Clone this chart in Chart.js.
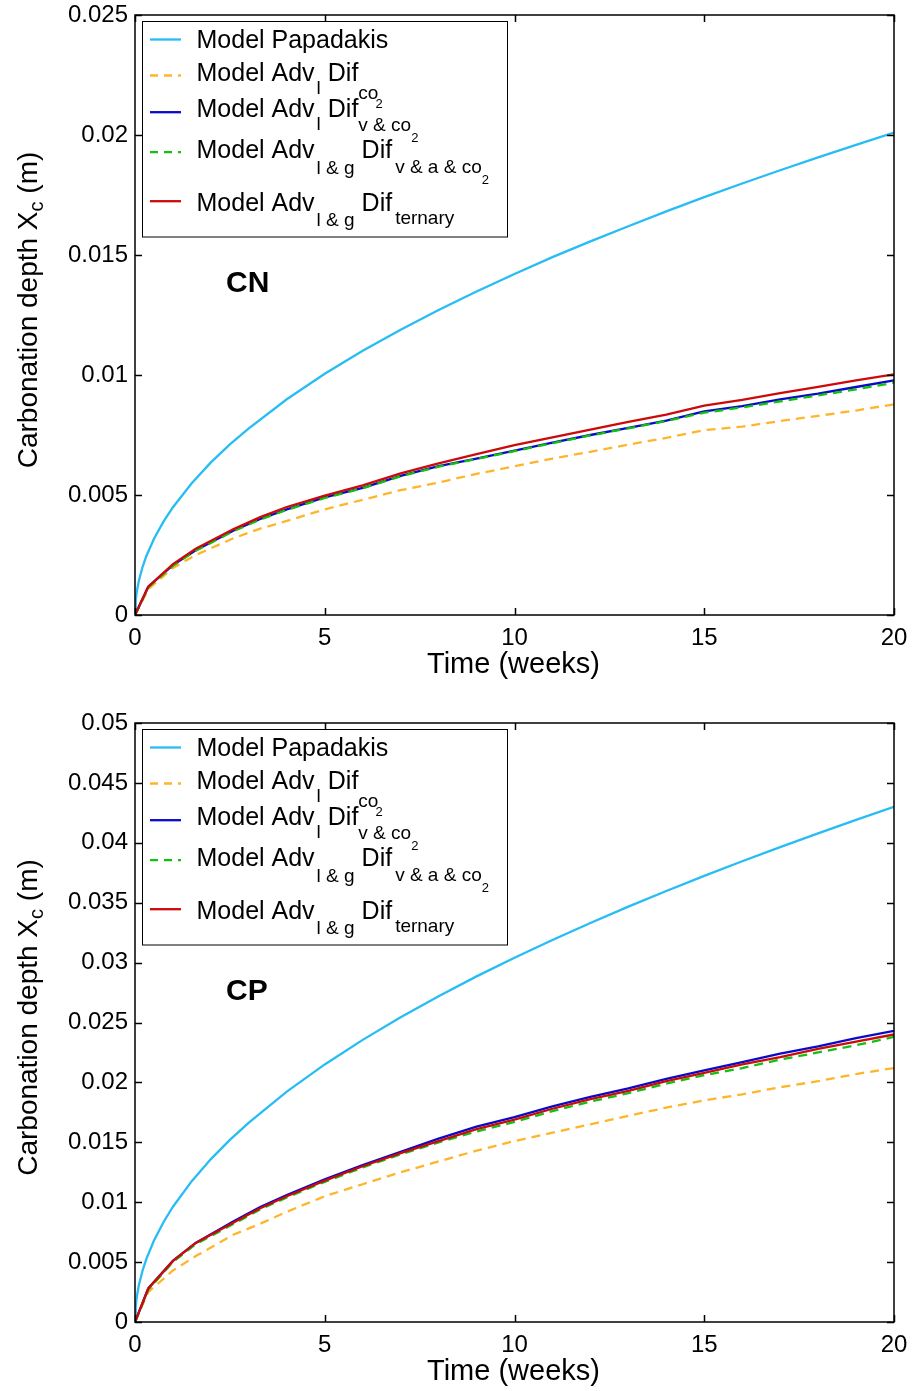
<!DOCTYPE html>
<html><head><meta charset="utf-8">
<script src="https://cdn.jsdelivr.net/npm/chart.js@4.4.0/dist/chart.umd.min.js"></script>
<style>html,body{margin:0;padding:0;background:#fff}canvas{display:block}</style>
</head><body>
<canvas id="cn" width="914" height="695"></canvas>
<canvas id="cp" width="914" height="696"></canvas>
<script>
// ---------- data ----------
const xTickValues = [0, 5, 10, 15, 20];
const cnYTickValues = [0, 0.005, 0.01, 0.015, 0.02, 0.025];
const cpYTickValues = [0, 0.005, 0.01, 0.015, 0.02, 0.025, 0.03, 0.035, 0.04, 0.045, 0.05];

const papTime = [0, 0.02, 0.05, 0.1, 0.2, 0.3, 0.5, 0.75, 1, 1.5, 2, 2.5, 3, 4, 5, 6, 7, 8, 9, 10, 11, 12, 13, 14, 15, 16, 17, 18, 19, 20];
const modelTime = [0, 0.35, 1, 1.6, 2.6, 3.3, 4, 5, 6, 7, 8, 9, 10, 11, 12, 13, 14, 15, 16, 17, 18, 19, 20];

// CN
const cnPapadakis = [0, 0.00064, 0.00100, 0.00142, 0.00201, 0.00246, 0.00318, 0.00389, 0.00449, 0.00550, 0.00636, 0.00711, 0.00778, 0.00899, 0.01005, 0.01101, 0.01189, 0.01271, 0.01348, 0.01421, 0.01491, 0.01557, 0.01620, 0.01682, 0.01741, 0.01798, 0.01853, 0.01907, 0.01959, 0.02010];
const cnAdvLDifCO2 = [0, 0.00108, 0.00196, 0.00250, 0.00320, 0.00360, 0.00392, 0.00440, 0.00480, 0.00520, 0.00552, 0.00588, 0.00620, 0.00652, 0.00680, 0.00710, 0.00738, 0.00770, 0.00785, 0.00808, 0.00830, 0.00852, 0.00878];
const cnAdvLDifVCO2 = [0, 0.00118, 0.00208, 0.00270, 0.00352, 0.00400, 0.00440, 0.00490, 0.00530, 0.00580, 0.00620, 0.00652, 0.00685, 0.00718, 0.00750, 0.00780, 0.00810, 0.00848, 0.00870, 0.00898, 0.00922, 0.00950, 0.00978];
const cnAdvLGDifVACO2 = [0, 0.00115, 0.00205, 0.00268, 0.00350, 0.00398, 0.00438, 0.00488, 0.00528, 0.00578, 0.00618, 0.00650, 0.00683, 0.00716, 0.00748, 0.00778, 0.00808, 0.00843, 0.00865, 0.00890, 0.00915, 0.00940, 0.00968];
const cnAdvLGDifTernary = [0, 0.00118, 0.00212, 0.00276, 0.00358, 0.00408, 0.00450, 0.00497, 0.00540, 0.00590, 0.00632, 0.00670, 0.00708, 0.00740, 0.00772, 0.00805, 0.00835, 0.00872, 0.00896, 0.00924, 0.00951, 0.00978, 0.01003];

// CP
const cpPapadakis = [0, 0.00136, 0.00215, 0.00304, 0.00430, 0.00527, 0.00680, 0.00833, 0.00962, 0.01178, 0.01360, 0.01520, 0.01665, 0.01923, 0.02150, 0.02355, 0.02544, 0.02720, 0.02885, 0.03041, 0.03189, 0.03331, 0.03467, 0.03598, 0.03724, 0.03846, 0.03964, 0.04079, 0.04191, 0.04300];
const cpAdvLDifCO2 = [0, 0.0025, 0.0043, 0.0055, 0.0073, 0.0082, 0.0092, 0.0105, 0.0115, 0.0125, 0.0134, 0.0143, 0.0151, 0.0158, 0.0165, 0.0172, 0.0179, 0.0185, 0.0190, 0.0196, 0.0201, 0.0207, 0.0212];
const cpAdvLDifVCO2 = [0, 0.0028, 0.0051, 0.0066, 0.0084, 0.0096, 0.0106, 0.0119, 0.0131, 0.0142, 0.0153, 0.0163, 0.0171, 0.0180, 0.0188, 0.0195, 0.0203, 0.0210, 0.0217, 0.0224, 0.0230, 0.0237, 0.0243];
const cpAdvLGDifVACO2 = [0, 0.0027, 0.0050, 0.0065, 0.0082, 0.0094, 0.0104, 0.0117, 0.0129, 0.0140, 0.0150, 0.0159, 0.0167, 0.0176, 0.0184, 0.0191, 0.0199, 0.0206, 0.0212, 0.0219, 0.0225, 0.0231, 0.0238];
const cpAdvLGDifTernary = [0, 0.0028, 0.0051, 0.0066, 0.0083, 0.0095, 0.0105, 0.0118, 0.0130, 0.0141, 0.0151, 0.0161, 0.0169, 0.0178, 0.0186, 0.0193, 0.0201, 0.0208, 0.0215, 0.0221, 0.0228, 0.0234, 0.0240];

// legend labels: [text, level] (0 = normal, 1 = subscript, 2 = sub-subscript)
const legendLabels = [
  [['Model Papadakis', 0]],
  [['Model Adv', 0], ['l', 1], [' Dif', 0], ['co', 1], ['2', 2]],
  [['Model Adv', 0], ['l', 1], [' Dif', 0], ['v & co', 1], ['2', 2]],
  [['Model Adv', 0], ['l & g', 1], [' Dif', 0], ['v & a & co', 1], ['2', 2]],
  [['Model Adv', 0], ['l & g', 1], [' Dif', 0], ['ternary', 1]]
];
const xTitle = 'Time (weeks)';
const yTitleParts = [['Carbonation depth X', 0], ['c', 1], [' (m)', 0]];

// ---------- styles ----------
const FONT = '"Liberation Sans", Arial, Helvetica, sans-serif';
const seriesStyle = [
  {color: '#27bdf3', dash: []},
  {color: '#fdb62c', dash: [9, 6]},
  {color: '#0a0ac8', dash: []},
  {color: '#12c012', dash: [9, 6]},
  {color: '#cc0a0a', dash: []}
];
// per-row legend layout (relative to legend box top)
const legendLayout = [
  {lineY: 18, base: 26.7, offs: [0]},
  {lineY: 54, base: 59, offs: [0, 13, 0, 18, 27]},
  {lineY: 90.7, base: 95, offs: [0, 13, 0, 14, 25.7]},
  {lineY: 130.7, base: 136.7, offs: [0, 15.3, 0, 14.3, 25.3]},
  {lineY: 179.7, base: 189, offs: [0, 15, 0, 13.3]}
];
const legendGaps = [
  [0], [0, 2, 0, 0, -3], [0, 2, 0, 0, 0], [0, 2, 0, 3, 0], [0, 2, 0, 3]
];
const sizes = [25, 19, 13];

function pts(xs, ys) { return xs.map((x, i) => ({x: x, y: ys[i]})); }

function drawParts(ctx, x, y, parts, offs, gaps, sz) {
  parts.forEach((p, i) => {
    ctx.font = sz[p[1]] + 'px ' + FONT;
    x += (gaps ? gaps[i] : 0);
    ctx.fillText(p[0], x, y + offs[i]);
    x += ctx.measureText(p[0]).width;
  });
  return x;
}

function decor(panelLabel) {
  return {
    id: 'decor',
    afterDraw(chart) {
      const ctx = chart.ctx, a = chart.chartArea, xs = chart.scales.x, ys = chart.scales.y;
      ctx.save();
      ctx.strokeStyle = '#000';
      ctx.lineWidth = 1.5;
      ctx.beginPath();
      xs.ticks.forEach(t => {
        const px = Math.round(xs.getPixelForValue(t.value)) + 0.5;
        ctx.moveTo(px, a.bottom); ctx.lineTo(px, a.bottom - 7);
        ctx.moveTo(px, a.top); ctx.lineTo(px, a.top + 7);
      });
      ys.ticks.forEach(t => {
        const py = Math.round(ys.getPixelForValue(t.value)) + 0.5;
        ctx.moveTo(a.left, py); ctx.lineTo(a.left + 7, py);
        ctx.moveTo(a.right, py); ctx.lineTo(a.right - 7, py);
      });
      ctx.stroke();
      ctx.strokeRect(a.left, a.top, a.right - a.left, a.bottom - a.top);

      ctx.fillStyle = '#000';
      ctx.textBaseline = 'alphabetic';
      // x title
      ctx.font = '29px ' + FONT;
      ctx.textAlign = 'center';
      ctx.fillText(xTitle, (a.left + a.right) / 2 - 1, a.bottom + 58);
      ctx.textAlign = 'left';
      // y title (rotated)
      ctx.save();
      const cy = (a.top + a.bottom) / 2 - 5;
      ctx.translate(37, cy);
      ctx.rotate(-Math.PI / 2);
      const ySz = [28, 20];
      let w = 0;
      yTitleParts.forEach(p => { ctx.font = ySz[p[1]] + 'px ' + FONT; w += ctx.measureText(p[0]).width; });
      drawParts(ctx, -w / 2, 0, yTitleParts, [0, 6, 0], null, ySz);
      ctx.restore();
      // panel label
      ctx.font = 'bold 30px ' + FONT;
      ctx.fillText(panelLabel, 226, a.top + 277);
      // legend
      const bx = 142.5, by = a.top + 6.5, bw = 365, bh = 215.5;
      ctx.fillStyle = '#fff';
      ctx.fillRect(bx, by, bw, bh);
      ctx.lineWidth = 1;
      ctx.strokeStyle = '#000';
      ctx.strokeRect(bx, by, bw, bh);
      legendLabels.forEach((parts, i) => {
        const L = legendLayout[i], st = seriesStyle[i];
        ctx.beginPath();
        ctx.setLineDash(st.dash.length ? [8, 6] : []);
        ctx.strokeStyle = st.color;
        ctx.lineWidth = 2.3;
        ctx.moveTo(150, by + L.lineY); ctx.lineTo(181, by + L.lineY);
        ctx.stroke();
        ctx.setLineDash([]);
        ctx.fillStyle = '#000';
        drawParts(ctx, 196.5, by + L.base, parts, L.offs, legendGaps[i], sizes);
      });
      ctx.restore();
    }
  };
}

function makeChart(id, label, series, yMax, yTicks, padTop, xHeight) {
  const names = ['Model Papadakis', 'Model Adv_l Dif_co2', 'Model Adv_l Dif_v&co2', 'Model Adv_l&g Dif_v&a&co2', 'Model Adv_l&g Dif_ternary'];
  const datasets = series.map((s, i) => ({
    label: names[i],
    data: pts(i === 0 ? papTime : modelTime, s),
    borderColor: seriesStyle[i].color,
    borderDash: seriesStyle[i].dash,
    borderWidth: 2.3,
    pointRadius: 0,
    tension: 0,
    fill: false,
    order: 5 - i
  }));
  return new Chart(document.getElementById(id), {
    type: 'line',
    data: {datasets},
    options: {
      responsive: false,
      animation: false,
      devicePixelRatio: 1,
      layout: {padding: {top: padTop, right: 20, left: 0, bottom: 0}},
      plugins: {legend: {display: false}, tooltip: {enabled: false}},
      scales: {
        x: {
          type: 'linear', min: 0, max: 20,
          afterBuildTicks: s => { s.ticks = xTickValues.map(v => ({value: v})); },
          afterFit: s => { s.height = xHeight; s.paddingLeft = 0; s.paddingRight = 0; },
          grid: {display: false, drawTicks: false},
          border: {display: false},
          ticks: {color: '#000', font: {size: 24, family: FONT}, padding: 9, maxRotation: 0, autoSkip: false,
                   callback: v => String(v)}
        },
        y: {
          type: 'linear', min: 0, max: yMax,
          afterBuildTicks: s => { s.ticks = yTicks.map(v => ({value: v})); },
          afterFit: s => { s.width = 135; s.paddingTop = 0; s.paddingBottom = 0; },
          grid: {display: false, drawTicks: false},
          border: {display: false},
          ticks: {color: '#000', font: {size: 24, family: FONT}, padding: 7, autoSkip: false,
                  callback: v => String(+Number(v).toFixed(4))}
        }
      }
    },
    plugins: [decor(label)]
  });
}

makeChart('cn', 'CN', [cnPapadakis, cnAdvLDifCO2, cnAdvLDifVCO2, cnAdvLGDifVACO2, cnAdvLGDifTernary], 0.025, cnYTickValues, 15, 80);
makeChart('cp', 'CP', [cpPapadakis, cpAdvLDifCO2, cpAdvLDifVCO2, cpAdvLGDifVACO2, cpAdvLGDifTernary], 0.05, cpYTickValues, 28, 69);
</script>
</body></html>
